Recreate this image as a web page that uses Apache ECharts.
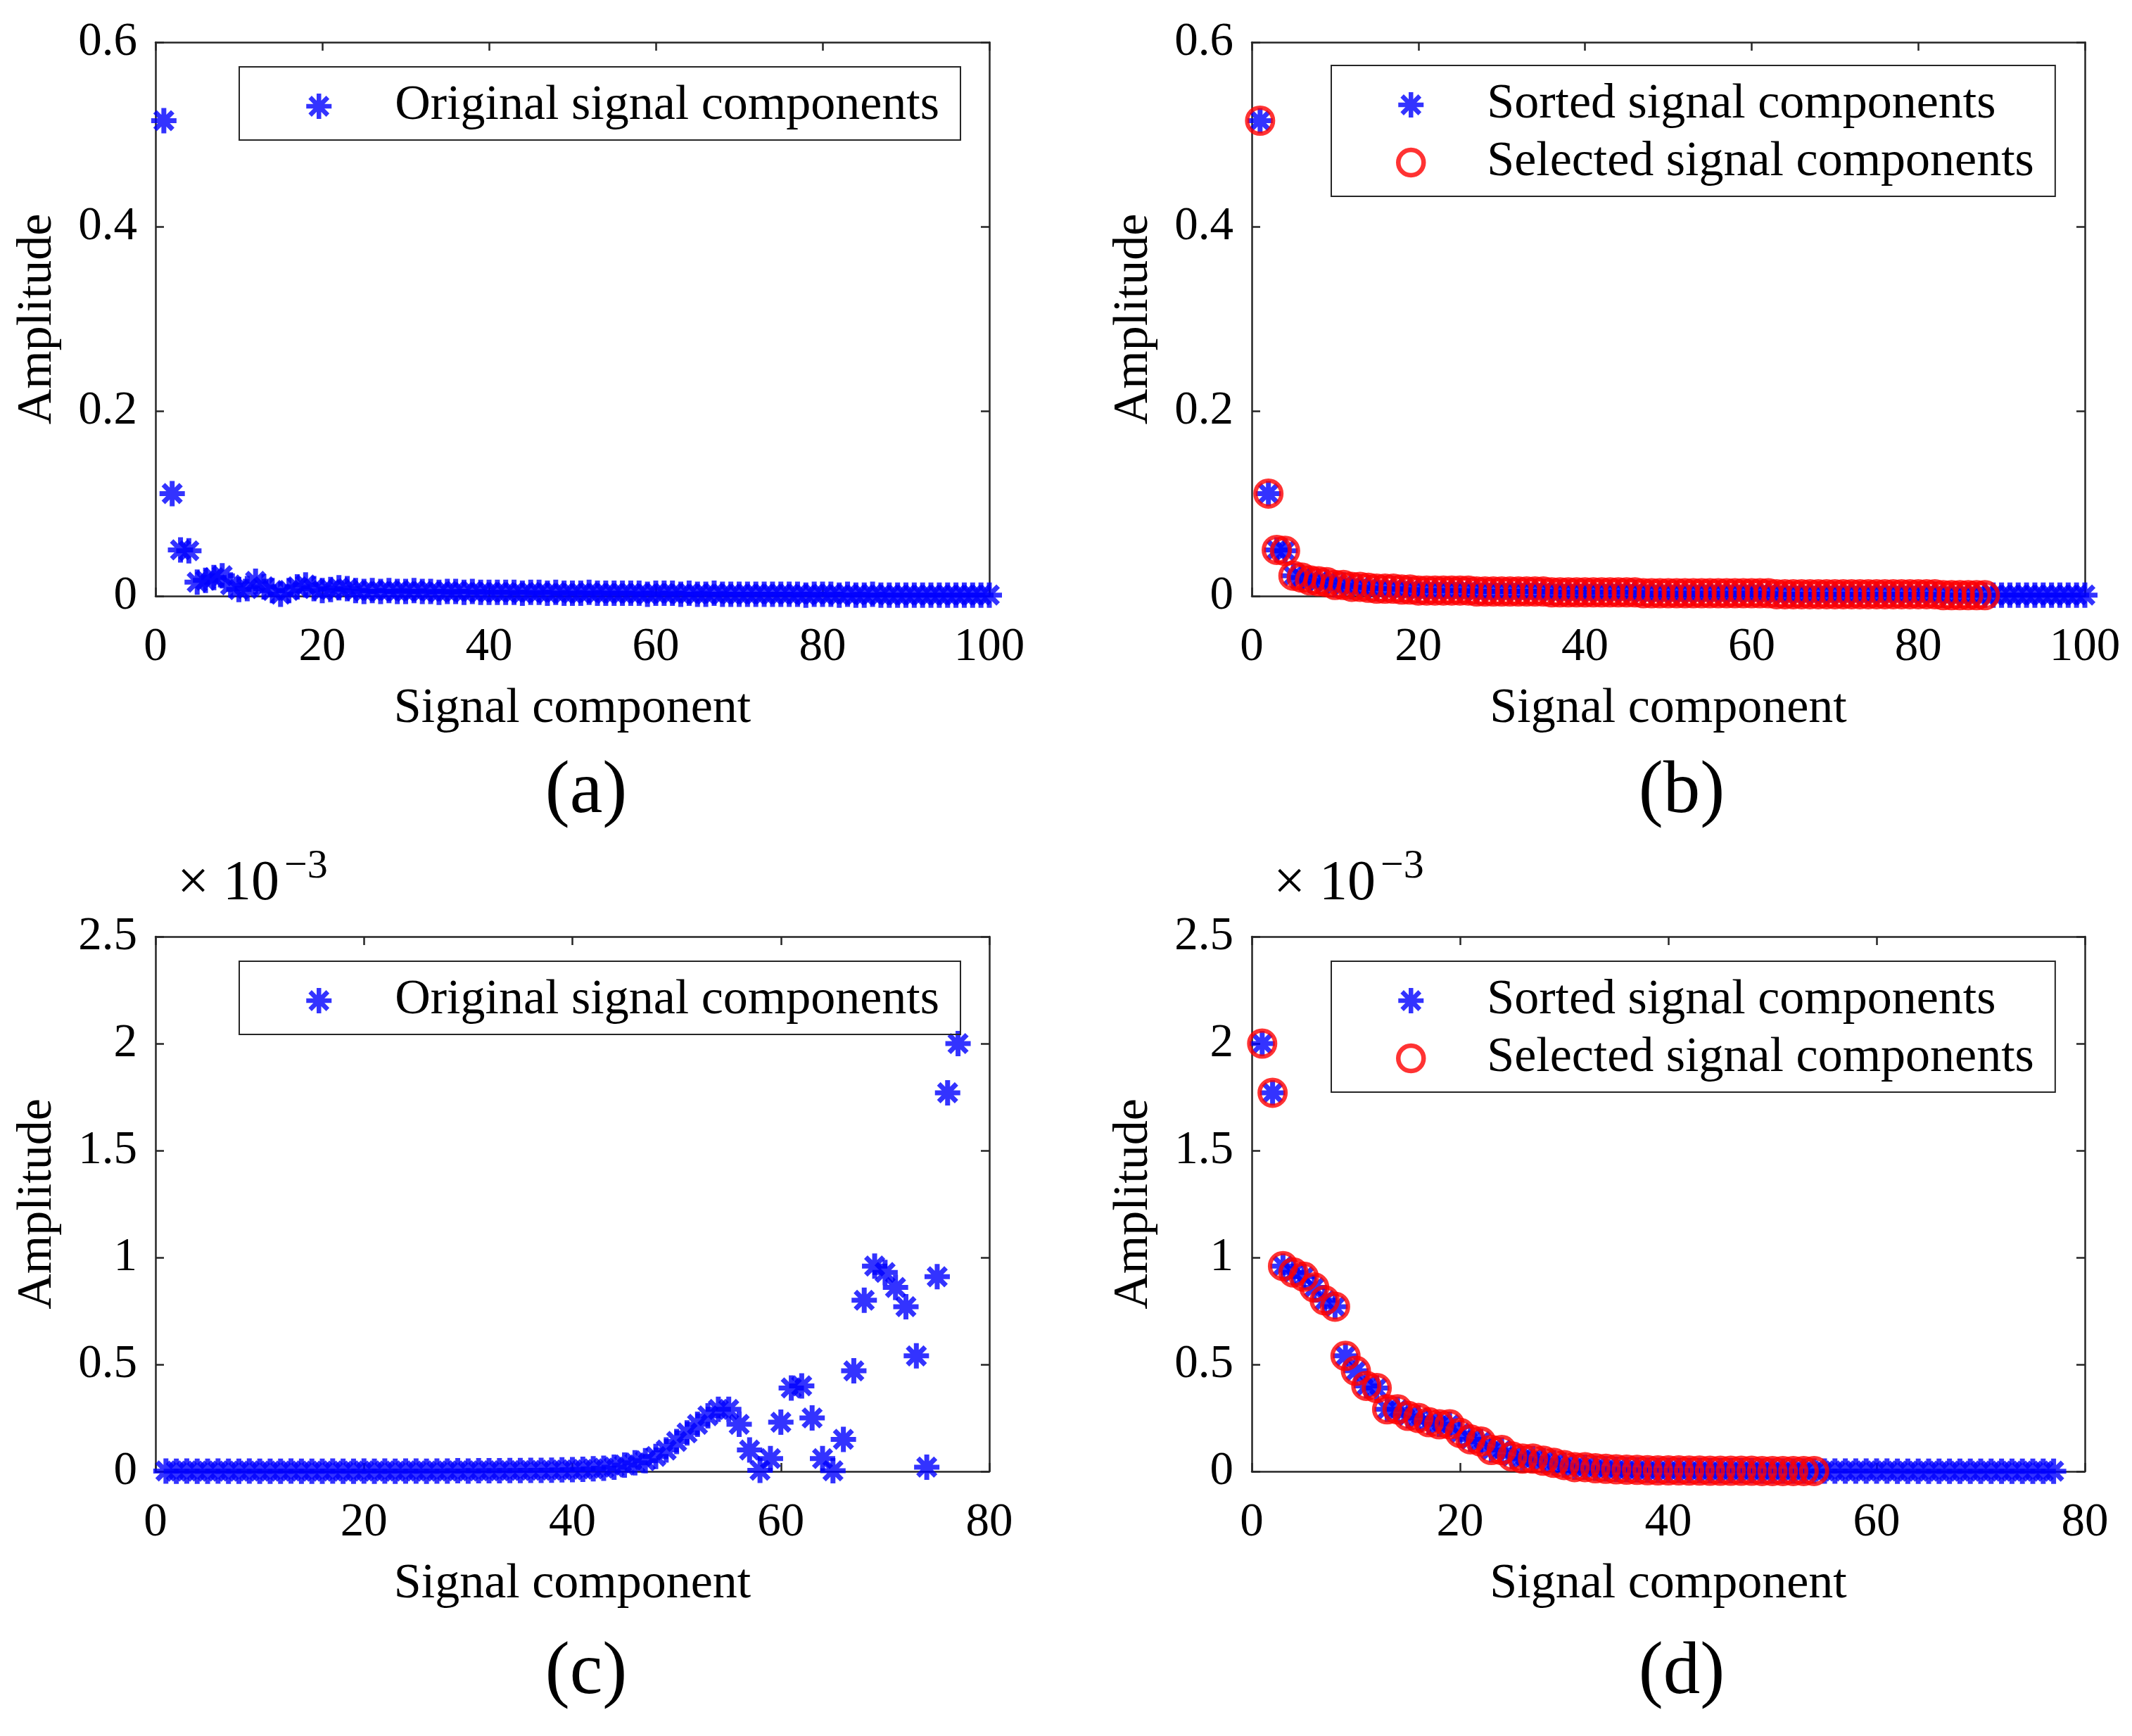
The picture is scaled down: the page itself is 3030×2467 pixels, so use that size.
<!DOCTYPE html>
<html>
<head>
<meta charset="utf-8">
<script src="https://cdn.jsdelivr.net/npm/echarts@6/dist/echarts.min.js"></script>
<style>
  html, body { margin: 0; padding: 0; background: #fff; }
  #chart { width: 3030px; height: 2467px; }
</style>
</head>
<body>
<div id="chart"></div>
<script>
// amplitude of each signal component (index = component number, starting at 1)
const originalTop = [
  0.515, 0.111, 0.050, 0.049, 0.015, 0.017, 0.020, 0.022, 0.012, 0.007,
  0.008, 0.016, 0.010, 0.006, 0.002, 0.006, 0.010, 0.012, 0.008, 0.006,
  0.007, 0.009, 0.008, 0.006, 0.005, 0.006, 0.005, 0.006, 0.005, 0.005,
  0.006, 0.005, 0.005, 0.004, 0.005, 0.005, 0.004, 0.005, 0.004, 0.004,
  0.004, 0.004, 0.004, 0.003, 0.004, 0.004, 0.003, 0.004, 0.003, 0.003,
  0.003, 0.004, 0.003, 0.003, 0.003, 0.003, 0.003, 0.003, 0.002, 0.003,
  0.003, 0.003, 0.002, 0.003, 0.002, 0.002, 0.003, 0.002, 0.002, 0.002,
  0.002, 0.002, 0.002, 0.002, 0.002, 0.002, 0.002, 0.001, 0.002, 0.002,
  0.002, 0.001, 0.002, 0.001, 0.001, 0.002, 0.001, 0.001, 0.001, 0.001,
  0.001, 0.001, 0.001, 0.001, 0.001, 0.001, 0.001, 0.001, 0.001, 0.001
];
const selectedTop = 88;

// second case, values in units of 1e-3
const originalBottom = [
  0.002, 0.001, 0.002, 0.001, 0.001, 0.002, 0.001, 0.001, 0.002, 0.001,
  0.001, 0.001, 0.002, 0.001, 0.001, 0.001, 0.002, 0.001, 0.001, 0.002,
  0.001, 0.002, 0.001, 0.002, 0.002, 0.001, 0.002, 0.002, 0.003, 0.002,
  0.003, 0.003, 0.003, 0.004, 0.004, 0.005, 0.005, 0.006, 0.007, 0.008,
  0.010, 0.012, 0.015, 0.020, 0.030, 0.040, 0.050, 0.070, 0.100, 0.140,
  0.180, 0.220, 0.260, 0.290, 0.290, 0.220, 0.100, 0.005, 0.060, 0.230,
  0.390, 0.400, 0.250, 0.060, 0.003, 0.150, 0.470, 0.800, 0.960, 0.930,
  0.860, 0.770, 0.540, 0.020, 0.910, 1.770, 2.000
];
const selectedBottom = 54;

const xMaxTop = 100, xMaxBottom = 80, xStep = 20;
const yMaxTop = 0.6, yStepTop = 0.2;
const yMaxBottom = 2.5, yStepBottom = 0.5;
const panelTags = ['(a)', '(b)', '(c)', '(d)'];

const FONT = 'Liberation Serif';
const INK = '#262626';
const BLUE = '#0000ff';
const RED = '#ff0000';
const STAR = 'path://M0,50L100,50M50,0L50,100M15,15L85,85M85,15L15,85';

const desc = arr => arr.slice().sort((p, q) => q - p);
const points = arr => arr.map((v, i) => [i + 1, v]);

const sortedTop = desc(originalTop);
const sortedBottom = desc(originalBottom);

const grids = [
  { left: 221, top: 60, width: 1185, height: 787 },
  { left: 1779, top: 60, width: 1184, height: 787 },
  { left: 221, top: 1331, width: 1185, height: 760 },
  { left: 1779, top: 1331, width: 1184, height: 760 }
];

function xPair(g, max) {
  const base = {
    gridIndex: g, type: 'value', min: 0, max: max, interval: xStep,
    axisLine: { show: true, onZero: false, lineStyle: { color: INK, width: 2.5 } },
    axisTick: { show: true, inside: true, length: 12, lineStyle: { color: INK, width: 2.5 } },
    splitLine: { show: false }
  };
  return [
    Object.assign({}, base, {
      position: 'bottom',
      name: 'Signal component', nameLocation: 'middle', nameGap: 126,
      nameTextStyle: { fontFamily: FONT, fontSize: 70, color: '#000' },
      axisLabel: { show: true, margin: 40, fontFamily: FONT, fontSize: 67, color: '#000' }
    }),
    Object.assign({}, base, { position: 'top', axisLabel: { show: false } })
  ];
}

function yPair(g, max, step) {
  const base = {
    gridIndex: g, type: 'value', min: 0, max: max, interval: step,
    axisLine: { show: true, onZero: false, lineStyle: { color: INK, width: 2.5 } },
    axisTick: { show: true, inside: true, length: 12, lineStyle: { color: INK, width: 2.5 } },
    splitLine: { show: false }
  };
  return [
    Object.assign({}, base, {
      position: 'left',
      name: 'Amplitude', nameLocation: 'middle', nameGap: 132,
      nameTextStyle: { fontFamily: FONT, fontSize: 70, color: '#000' },
      axisLabel: { show: true, margin: 26, fontFamily: FONT, fontSize: 67, color: '#000' }
    }),
    Object.assign({}, base, { position: 'right', axisLabel: { show: false } })
  ];
}

const starStyle = { color: BLUE, borderColor: BLUE, borderWidth: 7 };
const ringStyle = { color: 'rgba(0,0,0,0)', borderColor: RED, borderWidth: 6 };

function starSeries(name, g, arr) {
  return {
    type: 'scatter', name: name, xAxisIndex: 2 * g, yAxisIndex: 2 * g,
    data: points(arr), symbol: STAR, symbolSize: 36, clip: false,
    itemStyle: starStyle
  };
}
function ringSeries(name, g, arr) {
  return {
    type: 'scatter', name: name, xAxisIndex: 2 * g, yAxisIndex: 2 * g,
    data: points(arr), symbol: 'circle', symbolSize: 37, clip: false,
    itemStyle: ringStyle
  };
}

function legendBox(left, top, names) {
  return {
    left: left, top: top, orient: 'vertical',
    padding: [21, 30, 13, 92], itemGap: 12,
    itemWidth: 36, itemHeight: 36,
    itemStyle: { borderWidth: 6.5 },
    borderColor: INK, borderWidth: 2, selectedMode: false,
    textStyle: { fontFamily: FONT, fontSize: 70, color: '#000', padding: [0, 0, 0, 85] },
    data: names
  };
}

function tag(text, x, y) {
  return {
    type: 'text', x: x, y: y,
    style: { text: text, fontFamily: FONT, fontSize: 105, fill: '#000', textAlign: 'center', textVerticalAlign: 'middle' }
  };
}
function scaleNote(x) {
  return [
    { type: 'text', x: x, y: 1257, style: { text: '\u00d7 10', fontFamily: FONT, fontSize: 80, fill: '#000', textAlign: 'left', textVerticalAlign: 'middle' } },
    { type: 'text', x: x + 152, y: 1232, style: { text: '\u22123', fontFamily: FONT, fontSize: 58, fill: '#000', textAlign: 'left', textVerticalAlign: 'middle' } }
  ];
}

const ORIG = 'Original signal components';
const SORT = 'Sorted signal components';
const SEL = 'Selected signal components';

const chart = echarts.init(document.getElementById('chart'));
chart.setOption({
  animation: false,
  backgroundColor: '#fff',
  grid: grids,
  xAxis: [].concat(xPair(0, xMaxTop), xPair(1, xMaxTop), xPair(2, xMaxBottom), xPair(3, xMaxBottom)),
  yAxis: [].concat(yPair(0, yMaxTop, yStepTop), yPair(1, yMaxTop, yStepTop),
                   yPair(2, yMaxBottom, yStepBottom), yPair(3, yMaxBottom, yStepBottom)),
  legend: [
    legendBox(340, 95, [ORIG]),
    legendBox(1892, 93, [SORT, SEL]),
    legendBox(340, 1366, [ORIG]),
    legendBox(1892, 1366, [SORT, SEL])
  ],
  graphic: [
    tag(panelTags[0], 833, 1126), tag(panelTags[1], 2390, 1126),
    tag(panelTags[2], 833, 2378), tag(panelTags[3], 2390, 2378)
  ].concat(scaleNote(252), scaleNote(1810)),
  series: [
    starSeries(ORIG, 0, originalTop),
    starSeries(SORT, 1, sortedTop),
    ringSeries(SEL, 1, sortedTop.slice(0, selectedTop)),
    starSeries(ORIG, 2, originalBottom),
    starSeries(SORT, 3, sortedBottom),
    ringSeries(SEL, 3, sortedBottom.slice(0, selectedBottom))
  ]
});
</script>
</body>
</html>
